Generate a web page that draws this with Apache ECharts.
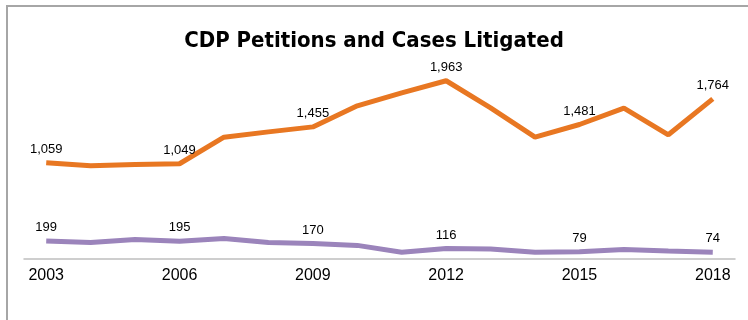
<!DOCTYPE html>
<html>
<head>
<meta charset="utf-8">
<script src="https://cdn.jsdelivr.net/npm/echarts@6/dist/echarts.min.js"></script>
<style>
    html, body { margin: 0; padding: 0; background: #fff; }
    #frame {
        position: absolute;
        left: 6px;
        top: 5px;
        width: 742px;
        height: 315px;
        border-left: 2px solid #a6a6a6;
        border-top: 2px solid #a6a6a6;
    }
    #container {
        position: absolute;
        left: 0;
        top: 0;
        width: 748px;
        height: 320px;
    }
</style>
</head>
<body>
<div id="frame"></div>
<div id="container"></div>
<script>
// years on the x axis
let years = ['2003', '2004', '2005', '2006', '2007', '2008', '2009', '2010',
    '2011', '2012', '2013', '2014', '2015', '2016', '2017', '2018']
// CDP petitions (orange)
let petitions = [1059, 1026, 1040, 1049, 1342, 1400, 1455, 1687, 1830, 1963, 1665, 1342, 1481, 1662, 1368, 1764]
// cases litigated (purple)
let litigated = [199, 181, 214, 195, 225, 181, 170, 150, 75, 116, 110, 75, 79, 105, 88, 74]

const font = "'Liberation Sans', Arial, sans-serif"
const narrow = "'Liberation Sans Narrow', 'DejaVu Sans Condensed', 'Liberation Sans', sans-serif"

// only every third year gets a value label
let labelFormatter = (p) => {
    if (p.dataIndex % 3 !== 0) return ''
    return p.value.toLocaleString('en-US')
}

let options = {
    animation: false,
    title: {
        show: true,
        text: 'CDP Petitions and Cases Litigated',
        left: 'center',
        top: 25,
        textStyle: {
            color: '#000',
            fontFamily: narrow,
            fontWeight: 'bold',
            fontSize: 22
        }
    },
    grid: {
        left: 24,
        right: 13,
        top: 32,
        bottom: 61
    },
    xAxis: {
        type: 'category',
        boundaryGap: true,
        data: years,
        axisLine: {
            show: true,
            lineStyle: { color: '#bfbfbf', width: 1.5 }
        },
        axisTick: { show: false },
        axisLabel: {
            interval: 2,
            color: '#000',
            fontFamily: font,
            fontSize: 16,
            margin: 9
        }
    },
    yAxis: {
        type: 'value',
        min: 0,
        max: 2500,
        show: false,
        splitLine: { show: false }
    },
    series: [
        {
            name: 'Petitions',
            type: 'line',
            data: petitions,
            symbol: 'circle',
            symbolSize: 0,
            showSymbol: true,
            lineStyle: { color: '#e87722', width: 5 },
            itemStyle: { color: '#e87722' },
            label: {
                show: true,
                position: 'top',
                distance: 7,
                color: '#000',
                fontFamily: font,
                fontSize: 13,
                formatter: labelFormatter
            }
        },
        {
            name: 'Litigated',
            type: 'line',
            data: litigated,
            symbol: 'circle',
            symbolSize: 0,
            showSymbol: true,
            lineStyle: { color: '#9b84bb', width: 5 },
            itemStyle: { color: '#9b84bb' },
            label: {
                show: true,
                position: 'top',
                distance: 7,
                color: '#000',
                fontFamily: font,
                fontSize: 13,
                formatter: labelFormatter
            }
        }
    ]
}

let mychart = echarts.init(document.getElementById('container'))
mychart.setOption(options)
window.addEventListener('resize', () => { mychart.resize() })
</script>
</body>
</html>
